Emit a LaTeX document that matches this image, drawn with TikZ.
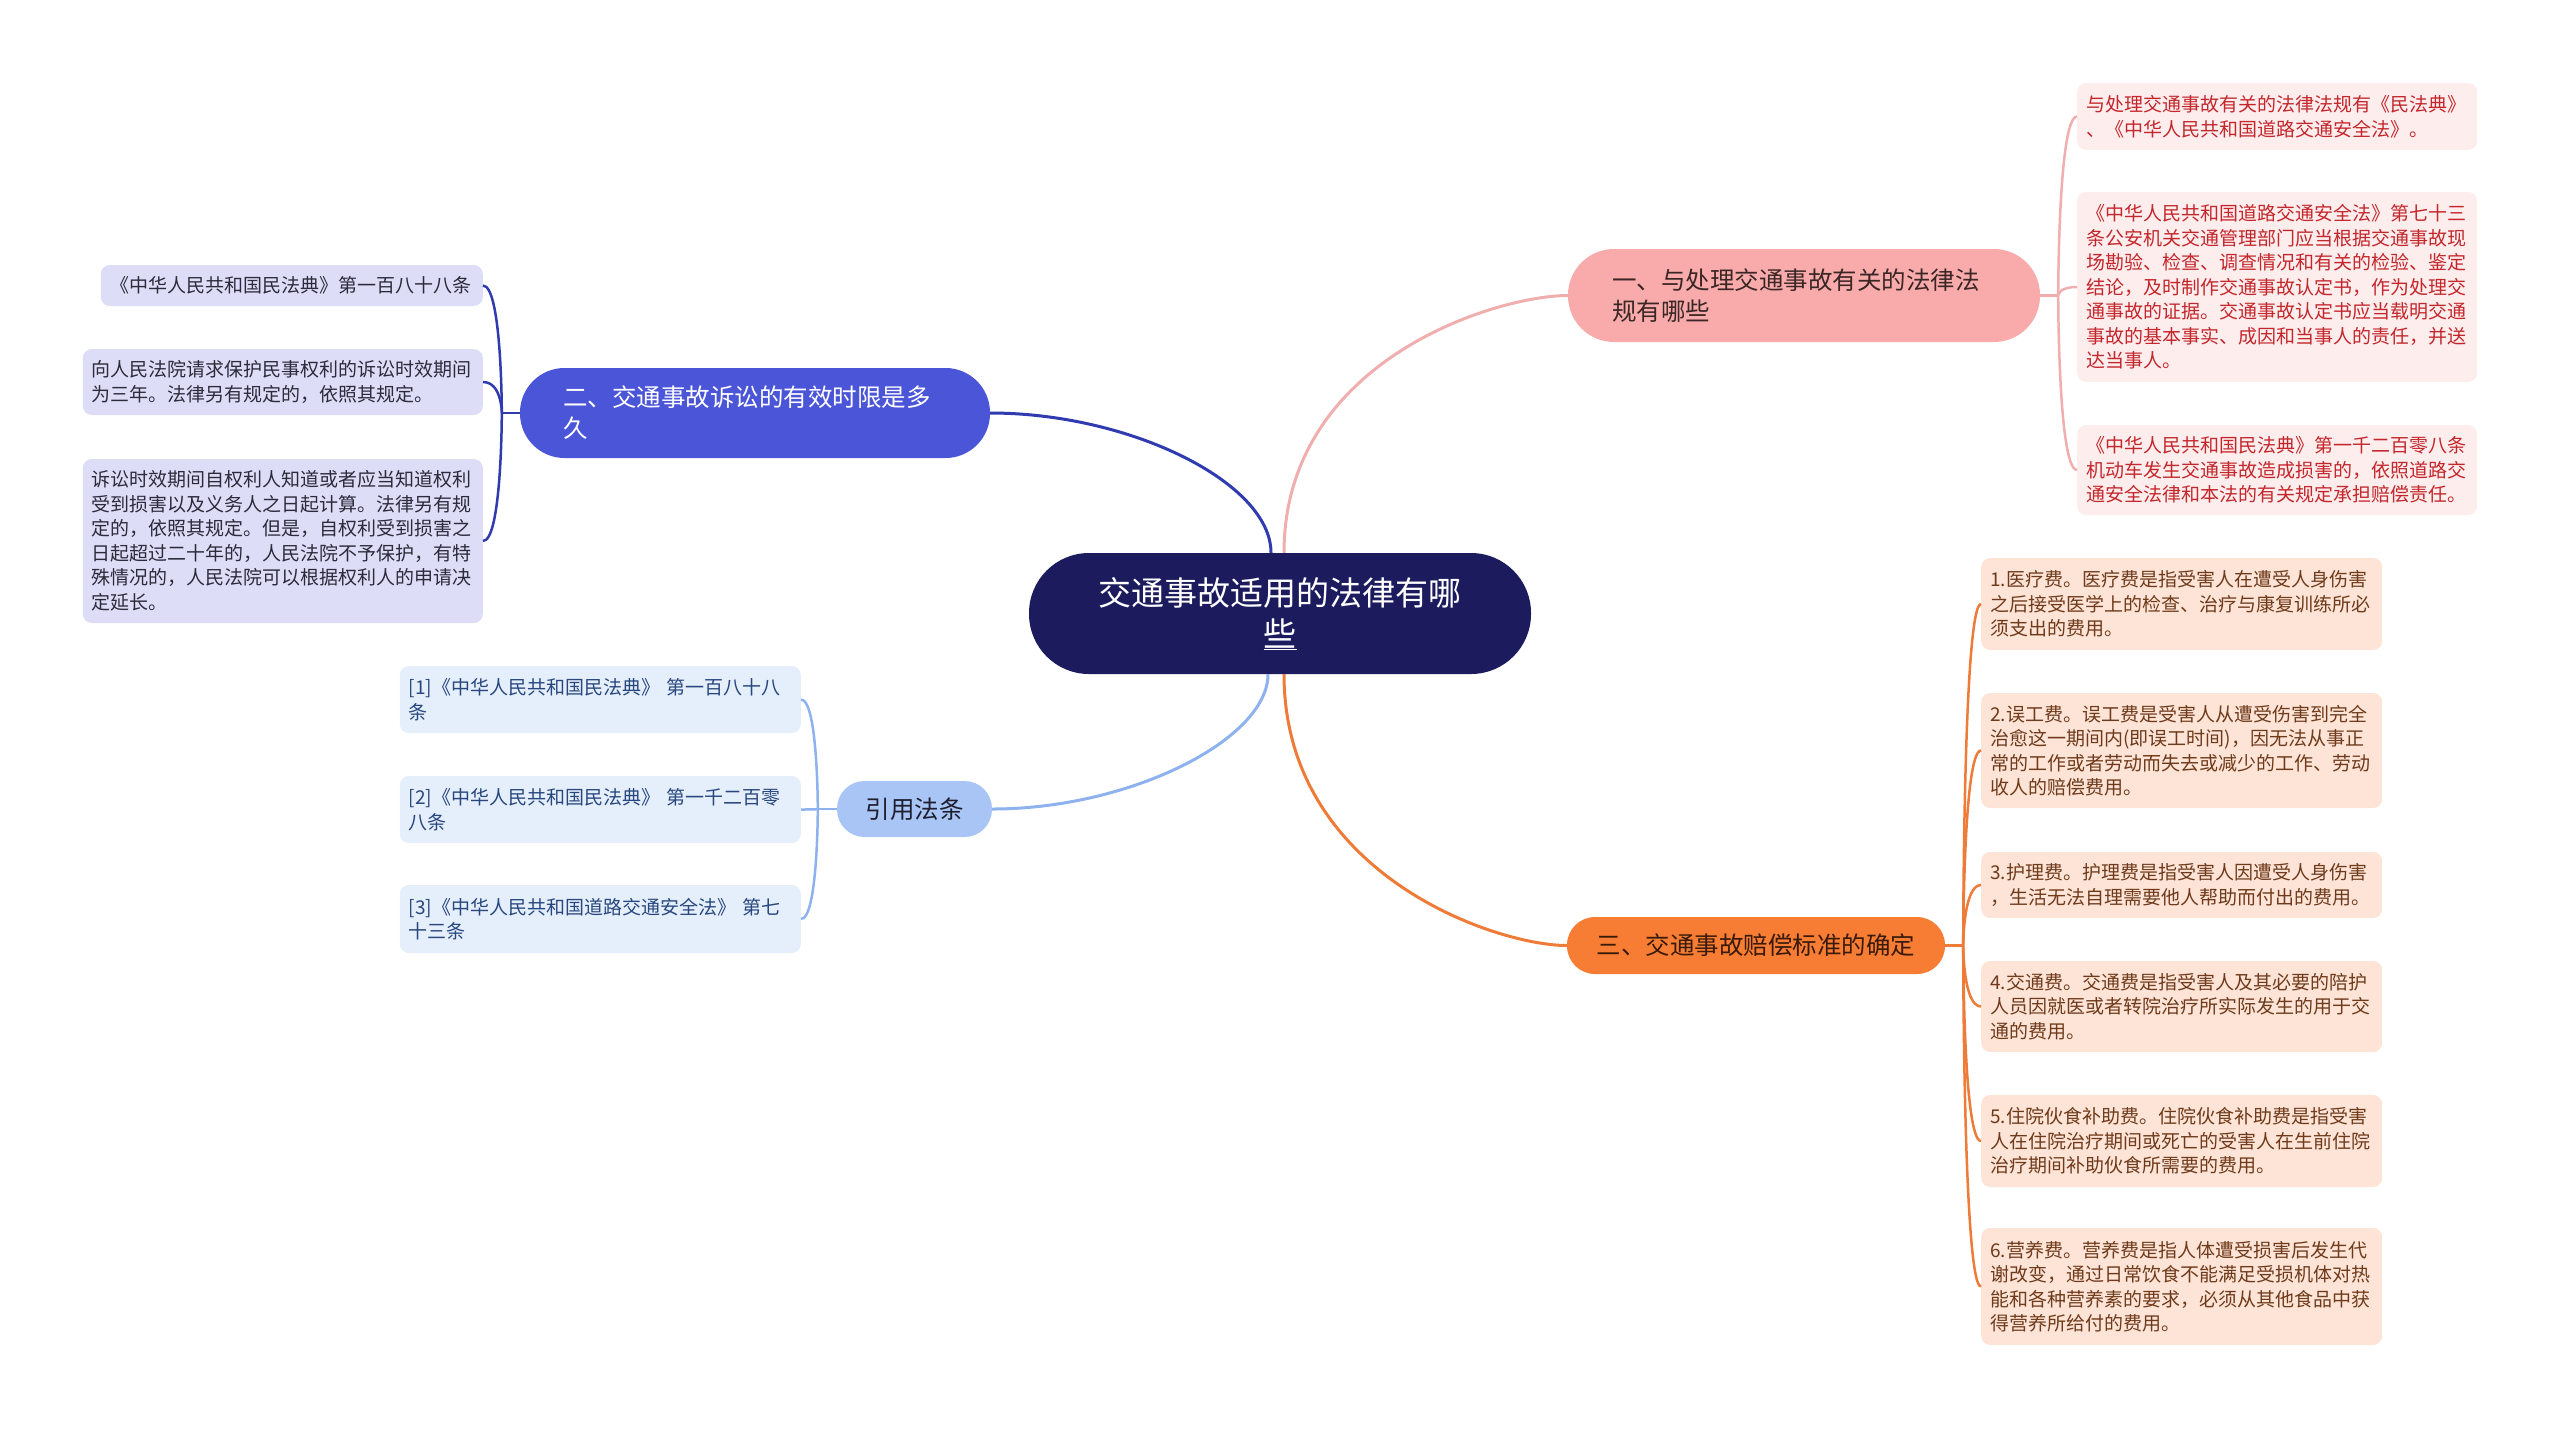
\documentclass[tikz,border=0pt]{standalone}
\usepackage{fontspec}
\setmainfont{Noto Sans CJK SC}
\usepackage{tikz}

\definecolor{rootfill}{HTML}{1C1B5E}
\definecolor{lawfill}{HTML}{F9ABAB}
\definecolor{lawtext}{HTML}{3B2626}
\definecolor{lawline}{HTML}{F0AEAE}
\definecolor{lawleaf}{HTML}{FDEDED}
\definecolor{lawleaftext}{HTML}{C3262B}
\definecolor{limfill}{HTML}{4B55D8}
\definecolor{limline}{HTML}{2F3BAE}
\definecolor{limleaf}{HTML}{DEDDF7}
\definecolor{limleaftext}{HTML}{2B2B3B}
\definecolor{citefill}{HTML}{A8C5F5}
\definecolor{citetext}{HTML}{1E1E2E}
\definecolor{citeline}{HTML}{8DB2EE}
\definecolor{citeleaf}{HTML}{E5EEFB}
\definecolor{citeleaftext}{HTML}{27477E}
\definecolor{compfill}{HTML}{F67D33}
\definecolor{comptext}{HTML}{3A1A0A}
\definecolor{compline}{HTML}{EE7B37}
\definecolor{compleaf}{HTML}{FDE4D6}
\definecolor{compleaftext}{HTML}{6F3A1B}

\tikzset{
  rootnode/.style={fill=rootfill, text=white, align=center, rounded corners=60pt, minimum width=502pt, minimum height=121pt, font=\fontsize{33}{41}\selectfont},
  branch/.style={align=left, font=\fontsize{24.5}{31}\selectfont},
  leaf/.style={align=left, rounded corners=9pt, text width=382pt, inner xsep=9pt, inner ysep=2pt, font=\fontsize{19}{24.5}\selectfont},
  mainline/.style={line width=3pt},
  leafline/.style={line width=2.5pt},
  leafcurve/.style={to path={.. controls (\tikztostart) and (\tikztostart |- \tikztotarget) .. (\tikztotarget)}},
}

\begin{document}
\begin{tikzpicture}[x=1pt, y=-1pt]
        \useasboundingbox (0,0) rectangle (2560,1428);

        % Central topic
        \node[rootnode] (root) at (1280,613.5) {交通事故适用的法律有哪\\\underline{些}};

        % Main topics
        \node[branch, fill=lawfill, text=lawtext, text width=384pt, inner xsep=44pt, minimum height=93pt, rounded corners=46pt] (law) at (1804,295.5) {一、与处理交通事故有关的法律法\\规有哪些};
        \node[branch, fill=limfill, text=white, text width=384pt, inner xsep=43pt, minimum height=90pt, rounded corners=44.5pt] (limit) at (755,413) {二、交通事故诉讼的有效时限是多\\久};
        \node[branch, fill=citefill, text=citetext, minimum width=155pt, minimum height=56pt, rounded corners=27.5pt] (cite) at (914.5,809) {引用法条};
        \node[branch, fill=compfill, text=comptext, minimum width=378pt, minimum height=57pt, rounded corners=28pt] (comp) at (1756,945.5) {三、交通事故赔偿标准的确定};

        % Leaves on the upper right
        \node[leaf, fill=lawleaf, text=lawleaftext, anchor=west, minimum height=67pt] (law1) at (2077,116.5) {与处理交通事故有关的法律法规有《民法典》\\、《中华人民共和国道路交通安全法》。};
        \node[leaf, fill=lawleaf, text=lawleaftext, anchor=west, minimum height=190pt] (law2) at (2077,287) {《中华人民共和国道路交通安全法》第七十三\\条公安机关交通管理部门应当根据交通事故现\\场勘验、检查、调查情况和有关的检验、鉴定\\结论，及时制作交通事故认定书，作为处理交\\通事故的证据。交通事故认定书应当载明交通\\事故的基本事实、成因和当事人的责任，并送\\达当事人。};
        \node[leaf, fill=lawleaf, text=lawleaftext, anchor=west, minimum height=90pt] (law3) at (2077,470) {《中华人民共和国民法典》第一千二百零八条\\机动车发生交通事故造成损害的，依照道路交\\通安全法律和本法的有关规定承担赔偿责任。};

        % Leaves on the upper left
        \node[leaf, fill=limleaf, text=limleaftext, anchor=east, text width=362pt, inner xsep=10pt, minimum height=41pt] (limit1) at (483,285.5) {《中华人民共和国民法典》第一百八十八条};
        \node[leaf, fill=limleaf, text=limleaftext, anchor=east, minimum height=66pt] (limit2) at (483,382) {向人民法院请求保护民事权利的诉讼时效期间\\为三年。法律另有规定的，依照其规定。};
        \node[leaf, fill=limleaf, text=limleaftext, anchor=east, minimum height=164pt] (limit3) at (483,541) {诉讼时效期间自权利人知道或者应当知道权利\\受到损害以及义务人之日起计算。法律另有规\\定的，依照其规定。但是，自权利受到损害之\\日起超过二十年的，人民法院不予保护，有特\\殊情况的，人民法院可以根据权利人的申请决\\定延长。};

        % Leaves on the lower left
        \node[leaf, fill=citeleaf, text=citeleaftext, anchor=east, text width=383pt, minimum height=67pt] (cite1) at (801,699.5) {[1]《中华人民共和国民法典》 第一百八十八\\条};
        \node[leaf, fill=citeleaf, text=citeleaftext, anchor=east, text width=383pt, minimum height=67pt] (cite2) at (801,809.5) {[2]《中华人民共和国民法典》 第一千二百零\\八条};
        \node[leaf, fill=citeleaf, text=citeleaftext, anchor=east, text width=383pt, minimum height=68pt] (cite3) at (801,919) {[3]《中华人民共和国道路交通安全法》 第七\\十三条};

        % Leaves on the lower right
        \node[leaf, fill=compleaf, text=compleaftext, anchor=west, text width=383pt, minimum height=92pt] (comp1) at (1981,604) {1.医疗费。医疗费是指受害人在遭受人身伤害\\之后接受医学上的检查、治疗与康复训练所必\\须支出的费用。};
        \node[leaf, fill=compleaf, text=compleaftext, anchor=west, text width=383pt, minimum height=115pt] (comp2) at (1981,750.5) {2.误工费。误工费是受害人从遭受伤害到完全\\治愈这一期间内(即误工时间)，因无法从事正\\常的工作或者劳动而失去或减少的工作、劳动\\收人的赔偿费用。};
        \node[leaf, fill=compleaf, text=compleaftext, anchor=west, text width=383pt, minimum height=66pt] (comp3) at (1981,885) {3.护理费。护理费是指受害人因遭受人身伤害\\，生活无法自理需要他人帮助而付出的费用。};
        \node[leaf, fill=compleaf, text=compleaftext, anchor=west, text width=383pt, minimum height=91pt] (comp4) at (1981,1006.5) {4.交通费。交通费是指受害人及其必要的陪护\\人员因就医或者转院治疗所实际发生的用于交\\通的费用。};
        \node[leaf, fill=compleaf, text=compleaftext, anchor=west, text width=383pt, minimum height=92pt] (comp5) at (1981,1141) {5.住院伙食补助费。住院伙食补助费是指受害\\人在住院治疗期间或死亡的受害人在生前住院\\治疗期间补助伙食所需要的费用。};
        \node[leaf, fill=compleaf, text=compleaftext, anchor=west, text width=383pt, minimum height=117pt] (comp6) at (1981,1286.5) {6.营养费。营养费是指人体遭受损害后发生代\\谢改变，通过日常饮食不能满足受损机体对热\\能和各种营养素的要求，必须从其他食品中获\\得营养所给付的费用。};

        % Curves from the central topic
        \draw[mainline, lawline] ([xshift=4pt]root.north) to[out=90, in=180, out distance=193pt, in distance=71pt] (law.west);
        \draw[mainline, limline] ([xshift=-9pt]root.north) to[out=90, in=0, out distance=70pt, in distance=140pt] (limit.east);
        \draw[mainline, citeline] ([xshift=-12pt]root.south) to[out=-90, in=0, out distance=65pt, in distance=138pt] (cite.east);
        \draw[mainline, compline] ([xshift=4pt]root.south) to[out=-90, in=180, out distance=200pt, in distance=71pt] (comp.west);

        % Brackets to the leaves
        \coordinate (lawbar) at ([xshift=18pt]law.east);
        \coordinate (limitbar) at ([xshift=-18pt]limit.west);
        \coordinate (citebar) at ([xshift=-19pt]cite.west);
        \coordinate (compbar) at ([xshift=18pt]comp.east);

        \draw[leafline, lawline] (law.east) -- (lawbar);
        \draw[leafline, limline] (limit.west) -- (limitbar);
        \draw[leafline, citeline] (cite.west) -- (citebar);
        \draw[leafline, compline] (comp.east) -- (compbar);

        \foreach \i in {1,2,3} {
            \draw[leafline, lawline] (lawbar) to[leafcurve] (law\i.west);
            \draw[leafline, limline] (limitbar) to[leafcurve] (limit\i.east);
            \draw[leafline, citeline] (citebar) to[leafcurve] (cite\i.east);
        }
        \foreach \i in {1,...,6} {
            \draw[leafline, compline] (compbar) to[leafcurve] (comp\i.west);
        }
    \end{tikzpicture}
\end{document}
